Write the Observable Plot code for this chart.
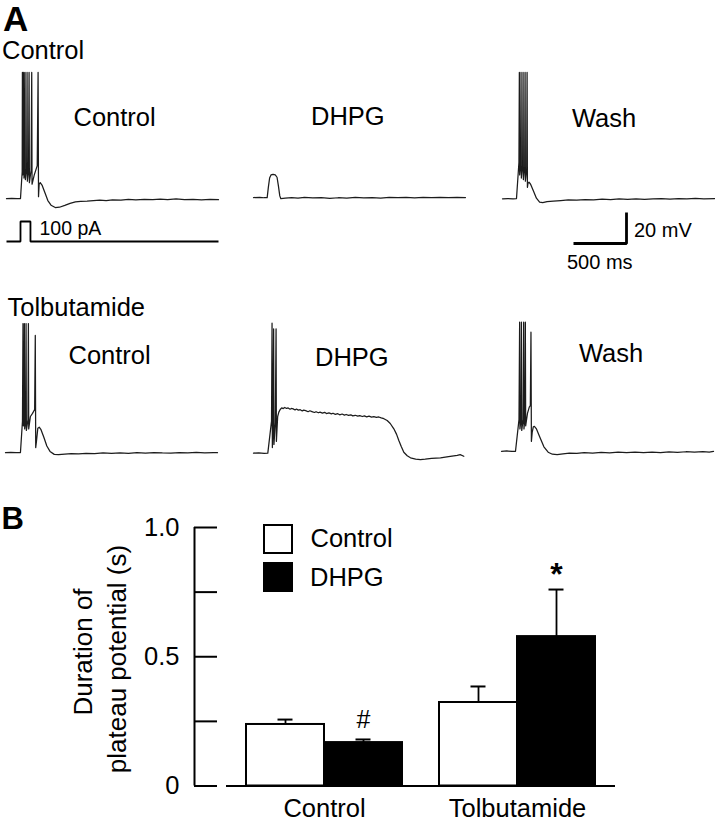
<!DOCTYPE html>
<html>
<head>
<meta charset="utf-8">
<script src="https://cdn.jsdelivr.net/npm/d3@7"></script>
<script src="https://cdn.jsdelivr.net/npm/@observablehq/plot@0.6"></script>
<style>
  body { margin: 0; background: #fff; }
  #fig { position: relative; width: 715px; height: 821px; overflow: hidden;
         font-family: "Liberation Sans", Arial, sans-serif; color: #000; background: #fff; }
  #fig svg { position: absolute; overflow: visible; max-width: none; }
</style>
</head>
<body>
<div id="fig"></div>
<script>
// ================= DATA =================
// Panel A: membrane potential traces, [time (ms), potential (mV)]
const ctrlControl = [[0,-65.3],[50,-65.1],[100,-65.3],[132,-65.2],[148,-48],[150,16],[153,-50],[160,-44],[162,16],[165,-52],[172,-45],[175,16],[178,-53],[190,-46],[194,16],[197,-54],[208,-47],[213,16],[216,-55],[232,-47],[238,16],[241,-56],[262,-50],[290,-44],[298,16],[302,-64],[308,-56],[318,-54.9],[335,-56.5],[360,-61],[390,-66.5],[420,-69.5],[460,-71],[500,-70.8],[550,-69.6],[600,-68.3],[650,-67.3],[700,-67],[760,-66.8],[820,-66.5],[880,-66.2],[940,-66.5],[1000,-66.1],[1080,-66.3],[1150,-65.8],[1220,-66],[1300,-65.7],[1380,-65.9],[1450,-65.6],[1520,-65.9],[1600,-65.4],[1680,-65.9],[1760,-65.7],[1840,-66],[1920,-65.7],[2000,-65.9]];
const ctrlDHPG = [[0,-64.6],[60,-64.4],[100,-64.7],[129,-64.6],[140,-58],[152,-52],[165,-50],[185,-49.6],[205,-49.9],[222,-51.5],[235,-57],[248,-63.5],[258,-65.3],[300,-65],[360,-64.6],[420,-64.9],[480,-64.4],[560,-64.8],[640,-64.6],[720,-65.1],[800,-64.7],[880,-64.9],[960,-64.5],[1040,-64.8],[1120,-64.6],[1200,-64.9],[1280,-64.5],[1360,-64.7],[1440,-64.4],[1520,-64.8],[1600,-64.5],[1680,-64.6],[1760,-64.4],[1840,-64.7],[1920,-64.5],[2000,-64.6]];
const ctrlWash = [[0,-65.4],[50,-65.2],[100,-65.4],[132,-65.2],[155,-42],[159,16],[162,-50],[172,-43],[175,16],[178,-52],[190,-44],[194,16],[197,-53],[209,-45],[213,16],[216,-54],[228,-46],[232,16],[235,-58],[240,-55.5],[250,-54.7],[265,-56],[290,-60],[320,-65],[350,-67.5],[380,-67.8],[420,-67.2],[480,-66.8],[550,-66.5],[620,-66.1],[700,-66.3],[780,-65.9],[860,-66],[940,-65.6],[1020,-65.9],[1100,-65.5],[1180,-65.8],[1260,-65.4],[1340,-65.7],[1420,-65.5],[1500,-65.2],[1580,-65.6],[1660,-65.3],[1740,-65.5],[1820,-65.1],[1900,-65.4],[2000,-65.2]];
const tolbControl = [[0,-65.3],[50,-65.1],[100,-65.3],[141,-65.2],[160,-45],[165,17.9],[169,-48],[176,-44],[178,17.9],[181,-50],[191,-45],[194,17.9],[197,-51],[212,-44],[216,17.9],[219,-50],[235,-42],[255,-40],[275,-37.5],[281,10.2],[285,-62],[292,-58],[305,-49.5],[318,-48.9],[335,-50.5],[360,-55],[390,-61],[420,-64.5],[460,-66.4],[500,-66.6],[560,-66.2],[620,-65.9],[690,-66.1],[760,-65.7],[840,-65.9],[920,-65.5],[1000,-65.8],[1080,-65.4],[1160,-65.7],[1240,-65.3],[1320,-65.6],[1400,-65.2],[1480,-65.5],[1560,-65.6],[1640,-65.2],[1720,-65.4],[1800,-65.1],[1880,-65.4],[1960,-65.2],[2000,-65.3]];
const tolbDHPG = [[0,-65.6],[50,-65.4],[100,-65.7],[135,-65.6],[170,-45],[175,18.1],[178,-62],[184,-50],[190,14.5],[193,-60],[206,-46],[213,14.5],[216,-58],[228,-42],[239,-39.2],[252,-37.5],[266,-36.4],[281,-36.9],[295,-36.2],[312,-36.8],[327,-36.5],[345,-37.3],[358,-36.8],[374,-37.1],[392,-37.8],[405,-37.2],[423,-37.9],[441,-37.6],[460,-38.4],[474,-37.9],[492,-38.2],[515,-38.9],[532,-38.3],[551,-38.8],[575,-39.4],[590,-38.9],[612,-39.6],[628,-39.2],[650,-39.8],[671,-39.3],[688,-40.1],[712,-39.7],[735,-40.3],[750,-39.9],[772,-40.6],[795,-40.2],[813,-40.9],[836,-40.4],[858,-41.1],[874,-40.7],[897,-41.3],[918,-40.9],[936,-41.6],[960,-41.2],[984,-41.8],[1002,-41.4],[1027,-42],[1046,-41.6],[1068,-42.2],[1090,-41.8],[1114,-42.4],[1135,-42.1],[1160,-42.6],[1182,-42.3],[1205,-42.9],[1230,-43.4],[1261,-44.6],[1290,-46.5],[1324,-49.9],[1350,-53.5],[1371,-57.5],[1395,-61.5],[1418,-65],[1450,-67.3],[1481,-68.6],[1530,-69.4],[1575,-69.7],[1620,-69.5],[1680,-69],[1764,-68.6],[1840,-67.9],[1922,-67.1],[1950,-66.6],[1984,-67.6]];
const tolbWash = [[0,-64.4],[50,-64.2],[100,-64.5],[132,-64.4],[165,-44],[171,18.75],[174,-50],[184,-44],[188,18.75],[191,-51],[204,-44],[209,18.75],[212,-50],[221,-43],[225,18.75],[228,-48],[245,-40],[262,-36],[272,-34.9],[278,12.3],[282,-58],[290,-52],[300,-48.6],[310,-48.3],[330,-50],[360,-55],[400,-61.5],[440,-65],[480,-66.3],[525,-66.5],[580,-66],[640,-65.6],[710,-65.8],[780,-65.3],[860,-65.6],[940,-65.1],[1020,-65.4],[1100,-65],[1180,-65.3],[1260,-64.9],[1340,-65.2],[1420,-64.9],[1500,-65.2],[1580,-64.8],[1660,-65.1],[1740,-64.7],[1820,-65],[1900,-64.6],[1960,-64.9],[2000,-64.5]];

// current step (pA) and scale bar (500 ms, 20 mV)
const stimT = [0, 132, 132, 226, 226, 2000];
const stimI = [0, 0, 100, 100, 0, 0];
const scaleBarT = [0, 500, 500];
const scaleBarV = [0, 0, 20];

// Panel B: duration of plateau potential (s)
const groups = ["Control", "Tolbutamide"];
const conditions = ["Control", "DHPG"];
const controlMeans = [0.238, 0.323];
const controlSEM = [0.019, 0.062];
const dhpgMeans = [0.168, 0.578];
const dhpgSEM = [0.012, 0.182];
const yTicks = [0, 0.25, 0.5, 0.75, 1];
const yTickLabels = ["0", "", "0.5", "", "1.0"];
const sigGroups = ["Control", "Tolbutamide"];
const sigSymbols = ["#", "*"];

// ================= LAYOUT =================
const fig = document.getElementById("fig");
const FONT = '"Liberation Sans", Arial, sans-serif';

function place(svg, left, top) {
  svg.style.left = left + "px";
  svg.style.top = top + "px";
  fig.appendChild(svg);
}
function label(text, left, baseline, size, extra = {}) {
  const d = document.createElement("div");
  d.textContent = text;
  Object.assign(d.style, {
    position: "absolute", left: left + "px", top: (baseline - 0.8465 * size) + "px",
    fontSize: size + "px", lineHeight: "1", whiteSpace: "nowrap"
  }, extra);
  fig.appendChild(d);
}
function vlabel(text, cx, cy, size) {
  const d = document.createElement("div");
  d.textContent = text;
  Object.assign(d.style, {
    position: "absolute", left: cx + "px", top: cy + "px", fontSize: size + "px",
    lineHeight: "1", whiteSpace: "nowrap", transform: "translate(-50%,-50%) rotate(-90deg)"
  });
  fig.appendChild(d);
}

const baseStyle = {background: "transparent", overflow: "visible", fontFamily: FONT, color: "black"};

// ---- Panel A traces ----
const TW = 212, TH = 163, M = 6;
function trace(data, left, top) {
  const svg = Plot.plot({
    width: TW + 2 * M, height: TH + 2 * M, margin: M,
    x: {domain: [0, 2000], axis: null},
    y: {domain: [-80, 25], axis: null},
    style: baseStyle,
    marks: [Plot.line(data, {x: d => d[0], y: d => d[1], stroke: "#1c1c1c", strokeWidth: 1.25})]
  });
  place(svg, left - M, top - M);
}
const row1Top = 58, row2Top = 312;
trace(ctrlControl, 6, row1Top);
trace(ctrlDHPG, 253, row1Top);
trace(ctrlWash, 502, row1Top);
trace(tolbControl, 5, row2Top);
trace(tolbDHPG, 253, row2Top);
trace(tolbWash, 501, row2Top);

// current step
{
  const svg = Plot.plot({
    width: TW + 2 * M, height: 20 + 2 * M, margin: M,
    x: {domain: [0, 2000], axis: null},
    y: {domain: [0, 100], axis: null},
    style: baseStyle,
    marks: [Plot.line(stimT, {x: stimT, y: stimI, stroke: "black", strokeWidth: 1.8, strokeLinejoin: "miter", strokeLinecap: "butt"})]
  });
  place(svg, 6 - M, 221 - M);
}
// scale bar
{
  const svg = Plot.plot({
    width: 53 + 2 * M, height: 31 + 2 * M, margin: M,
    x: {domain: [0, 500], axis: null},
    y: {domain: [0, 20], axis: null},
    style: baseStyle,
    marks: [Plot.line(scaleBarT, {x: scaleBarT, y: scaleBarV, stroke: "black", strokeWidth: 2.8, strokeLinejoin: "miter", strokeLinecap: "butt"})]
  });
  place(svg, 573 - M, 212 - M);
}

// ---- Panel B ----
const rows = groups.flatMap((g, i) => [
  {group: g, cond: conditions[0], mean: controlMeans[i], sem: controlSEM[i]},
  {group: g, cond: conditions[1], mean: dhpgMeans[i], sem: dhpgSEM[i]}
]);
const sigRows = sigGroups.map((g, i) => {
  const r = rows.find(d => d.group === g && d.cond === "DHPG");
  return {group: g, cond: "DHPG", top: r.mean + r.sem, symbol: sigSymbols[i]};
});

const BW = 715, BH = 341, BTop = 480;
const bMargins = {marginTop: 47, marginBottom: 35.5};

// baseline across the whole x range
place(Plot.plot({
  width: BW, height: BH, marginLeft: 226, marginRight: 100, ...bMargins,
  y: {domain: [0, 1], axis: null},
  style: baseStyle,
  marks: [Plot.ruleY([0], {stroke: "black", strokeWidth: 2})]
}), 0, BTop);

// y axis
place(Plot.plot({
  width: 217, height: BH, marginLeft: 194, marginRight: 0, ...bMargins,
  x: {domain: [0, 1], axis: null},
  y: {domain: [0, 1]},
  style: {...baseStyle, fontSize: "25.5px"},
  marks: [
    Plot.ruleX([0], {stroke: "black", strokeWidth: 2}),
    Plot.tickY(yTicks, {y: d => d, stroke: "black", strokeWidth: 2}),
    Plot.axisY({ticks: yTicks.filter((d, i) => yTickLabels[i] !== ""),
                tickFormat: d => yTickLabels[yTicks.indexOf(d)],
                tickSize: 0, tickPadding: 15, label: null, fontSize: 25.5})
  ]
}), 0, BTop);

// bars
place(Plot.plot({
  width: BW, height: BH, marginLeft: 226, marginRight: 100, ...bMargins,
  fx: {domain: groups, paddingInner: 0.19, paddingOuter: 0.098, axis: "bottom", tickSize: 0, tickPadding: 12.5, label: null},
  x: {domain: conditions, padding: 0, axis: null},
  y: {domain: [0, 1], axis: null},
  color: {domain: conditions, range: ["white", "black"]},
  style: {...baseStyle, fontSize: "25.5px"},
  marks: [
    Plot.ruleX(rows, {fx: "group", x: "cond", y1: "mean", y2: d => d.mean + d.sem, stroke: "black", strokeWidth: 1.8}),
    Plot.tickY(rows, {fx: "group", x: "cond", y: d => d.mean + d.sem, insetLeft: 31.5, insetRight: 31.5, stroke: "black", strokeWidth: 2}),
    Plot.barY(rows, {fx: "group", x: "cond", y: "mean", fill: "cond", stroke: "black", strokeWidth: 2}),
    Plot.text(sigRows.filter(d => d.symbol === "#"), {fx: "group", x: "cond", y: "top", text: "symbol", fontSize: 25, dy: -19}),
    Plot.text(sigRows.filter(d => d.symbol === "*"), {fx: "group", x: "cond", y: "top", text: "symbol", fontSize: 32, fontWeight: "bold", dy: -15})
  ]
}), 0, BTop);

// ---- Text ----
label("A", 3, 30.5, 35, {fontWeight: "bold"});
label("Control", 2, 60, 25.5);
label("Control", 73.5, 127, 25.5);
label("DHPG", 311, 125.5, 25.5);
label("Wash", 572, 128, 25.5);
label("100 pA", 39.5, 236, 19.5);
label("20 mV", 634, 236.5, 20);
label("500 ms", 567, 268.5, 20);
label("Tolbutamide", 7.5, 317, 25.5);
label("Control", 68.5, 365, 25.5);
label("DHPG", 315, 367, 25.5);
label("Wash", 579, 363, 25.5);

label("B", 1.5, 529, 31, {fontWeight: "bold"});
vlabel("Duration of", 83, 651.5, 26);
vlabel("plateau potential (s)", 116.5, 659, 26);

// legend
[["white", 524], ["black", 562]].forEach(([c, t]) => {
  const b = document.createElement("div");
  Object.assign(b.style, {position: "absolute", left: "263px", top: t + "px", width: "30px", height: "30px",
    boxSizing: "border-box", border: "2px solid black", background: c});
  fig.appendChild(b);
});
label("Control", 310.5, 548, 25.5);
label("DHPG", 310, 587, 25.5);
</script>
</body>
</html>
